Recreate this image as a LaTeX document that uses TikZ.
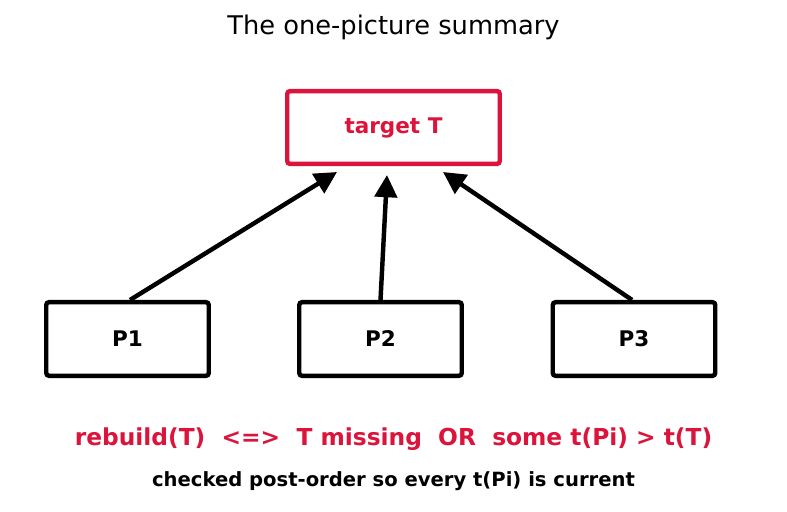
\documentclass[tikz,border=0pt]{standalone}
\usepackage{fontspec}
\setmainfont{DejaVu Sans}
\usepackage{tikz}
\usetikzlibrary{arrows.meta, positioning, calc}
\definecolor{Crimson}{RGB}{220,20,60}

\begin{document}
\begin{tikzpicture}[x=0.72pt, y=0.72pt,
  box/.style={draw=black, line width=3.2pt, rounded corners=2pt, fill=white,
              minimum width=117pt, minimum height=53pt, font=\fontsize{15.5}{18}\selectfont\bfseries},
  depend/.style={line width=3.2pt, -{Triangle[length=16pt, width=16pt]}}]
  \useasboundingbox (0,0) rectangle (787,512);

  \node[font=\fontsize{18.5}{22}\selectfont] (title) at (393.5,485) {The one-picture summary};

  % the target and its prerequisites
  \node[box, draw=Crimson, text=Crimson, minimum width=153pt, minimum height=52.4pt] (target) at (393.5,384.5) {target T};
  \node[box] (p1) at (127.5,173) {P1};
  \node[box] (p2) at (380.5,173) {P2};
  \node[box] (p3) at (634,173) {P3};

  \coordinate (in1) at (337,340);
  \coordinate (in2) at (387,337);
  \coordinate (in3) at (443,340);
  \draw[depend] ([xshift=1.8pt]p1.north) -- (in1);
  \draw[depend] (p2.north) -- (in2);
  \draw[depend] ([xshift=-1.4pt]p3.north) -- (in3);

  % the rule
  \node[font=\fontsize{16.8}{20}\selectfont\bfseries, text=Crimson] (rule) at (393.5,73)
    {rebuild(T)~~<=>~~T missing~~OR~~some t(Pi) > t(T)};
  \node[font=\fontsize{14.1}{17}\selectfont\bfseries] (note) at (393.5,31)
    {checked post-order so every t(Pi) is current};
\end{tikzpicture}
\end{document}
